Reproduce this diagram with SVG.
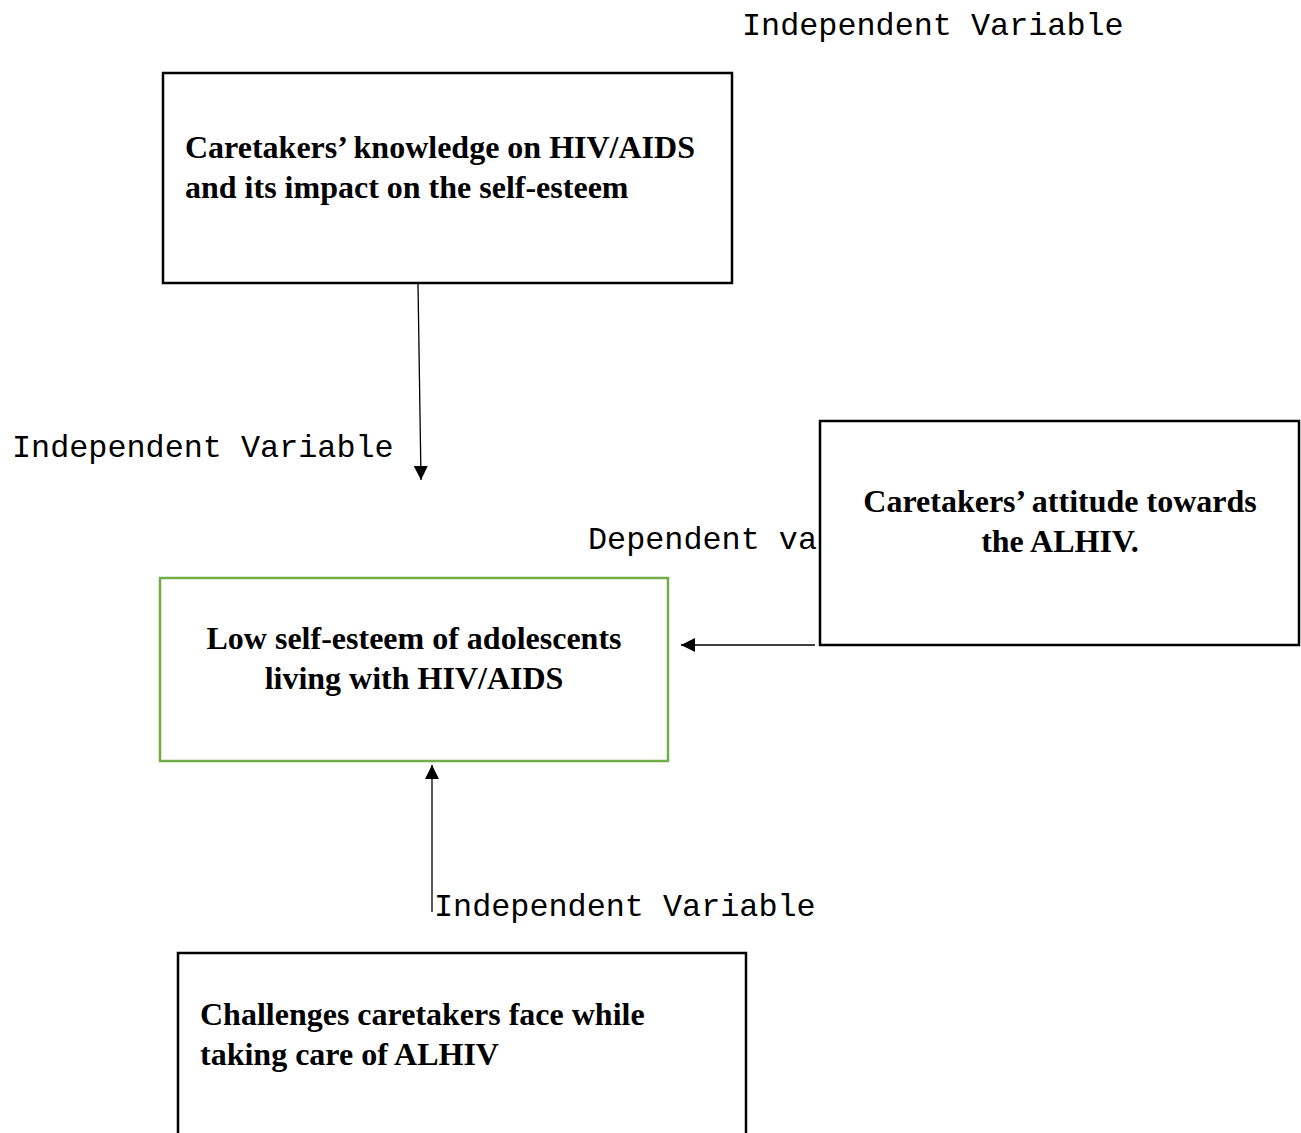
<svg xmlns="http://www.w3.org/2000/svg" width="1301" height="1133" viewBox="0 0 1301 1133">
<style>
.box{fill:#fff;stroke:#000;stroke-width:2.5}
.green{fill:#fff;stroke:#70AD47;stroke-width:2.5}
.t{font-family:"Liberation Serif","Times New Roman",serif;font-weight:bold;font-size:32px;fill:#000}
.m{font-family:"Liberation Mono","Courier New",monospace;font-size:31.8px;fill:#000}
.c{stroke:#000;stroke-width:1.3;fill:none}
</style>
<defs>
<marker id="ah" viewBox="0 0 10 10" refX="10" refY="5" markerWidth="14" markerHeight="14" markerUnits="userSpaceOnUse" orient="auto">
<path d="M0,0 L10,5 L0,10 Z" fill="#000"/>
</marker>
</defs>
<rect width="1301" height="1133" fill="#fff"/>
<text class="m" x="742" y="35">Independent Variable</text>
<text class="m" x="12" y="457">Independent Variable</text>
<text class="m" x="588" y="549">Dependent va</text>
<text class="m" x="434" y="916">Independent Variable</text>
<g id="connectors">
<line class="c" x1="418" y1="284" x2="421" y2="480" marker-end="url(#ah)"/>
<line class="c" x1="815" y1="645" x2="681" y2="645" marker-end="url(#ah)"/>
<line class="c" x1="432" y1="912" x2="432" y2="765" marker-end="url(#ah)"/>
</g>
<g id="node-knowledge">
<rect class="box" x="163" y="73" width="569" height="210"/>
<text class="t" x="185" y="158">Caretakers’ knowledge on HIV/AIDS</text>
<text class="t" x="185" y="198">and its impact on the self-esteem</text>
</g>
<g id="node-attitude">
<rect class="box" x="820" y="421" width="479" height="224"/>
<text class="t" x="1060" y="512" text-anchor="middle">Caretakers’ attitude towards</text>
<text class="t" x="1060" y="552" text-anchor="middle">the ALHIV.</text>
</g>
<g id="node-selfesteem">
<rect class="green" x="160" y="578" width="508" height="183"/>
<text class="t" x="414" y="649" text-anchor="middle">Low self-esteem of adolescents</text>
<text class="t" x="414" y="689" text-anchor="middle">living with HIV/AIDS</text>
</g>
<g id="node-challenges">
<rect class="box" x="178" y="953" width="568" height="200"/>
<text class="t" x="200" y="1025">Challenges caretakers face while</text>
<text class="t" x="200" y="1065">taking care of ALHIV</text>
</g>
</svg>
